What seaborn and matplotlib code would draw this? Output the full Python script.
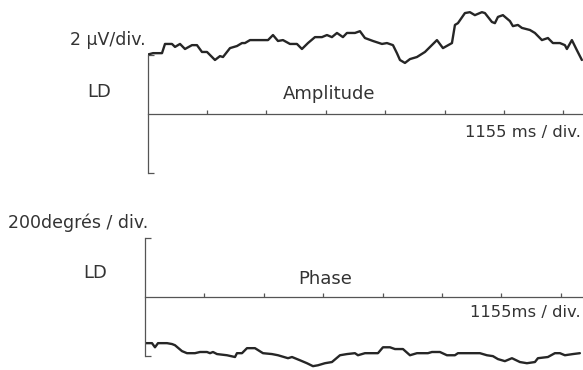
"""
Amplitude and phase traces (LD), 1155 ms per division
"""

import numpy as np
import pandas as pd
import seaborn as sns
import matplotlib
matplotlib.use('Agg')
import matplotlib.pyplot as plt

sns.set_theme(style='white')
plt.rcParams['font.family'] = ['DejaVu Sans']

# amplitude trace, time in ms, amplitude in microvolts (2 uV/div)
amp_time = [0, 107, 282, 340, 476, 535, 632, 729, 865, 962, 1059, 1157, 1312, 1409,
            1468, 1604, 1740, 1837, 1895, 1993, 2343, 2440, 2537, 2634, 2770, 2906,
            3003, 3120, 3256, 3392, 3489, 3586, 3684, 3800, 3878, 4034, 4131, 4228,
            4384, 4559, 4656, 4773, 4850, 4909, 5006, 5103, 5239, 5395, 5628, 5745,
            5920, 5978, 6036, 6172, 6269, 6366, 6502, 6561, 6697, 6755, 6814, 6911,
            7047, 7105, 7202, 7280, 7436, 7533, 7669, 7786, 7883, 8019, 8116, 8155,
            8252, 8349, 8446]
amp_uv = [2.0, 2.05, 2.05, 2.36, 2.36, 2.26, 2.36, 2.19, 2.32, 2.32, 2.09, 2.09, 1.82, 1.95,
          1.92, 2.22, 2.29, 2.39, 2.39, 2.49, 2.49, 2.66, 2.46, 2.49, 2.36, 2.36,
          2.19, 2.39, 2.59, 2.59, 2.66, 2.59, 2.73, 2.59, 2.73, 2.73, 2.79, 2.56,
          2.46, 2.36, 2.39, 2.32, 2.05, 1.82, 1.72, 1.85, 1.92, 2.09, 2.49, 2.22,
          2.39, 3.00, 3.06, 3.40, 3.43, 3.33, 3.43, 3.40, 3.10, 3.06, 3.27, 3.33,
          3.13, 2.96, 3.00, 2.90, 2.83, 2.73, 2.49, 2.56, 2.39, 2.39, 2.32, 2.19,
          2.49, 2.15, 1.82]

# phase trace, time in ms, phase in degrees (200 deg/div)
phase_time = [0, 136, 194, 253, 428, 525, 583, 719, 816, 972, 1069, 1205, 1264, 1322,
              1400, 1594, 1750, 1788, 1886, 1983, 2138, 2294, 2469, 2586, 2780, 2858,
              3013, 3149, 3266, 3363, 3499, 3635, 3791, 3927, 4082, 4141, 4277, 4530,
              4627, 4763, 4860, 5016, 5152, 5288, 5502, 5579, 5735, 5871, 6026, 6085,
              6512, 6648, 6765, 6862, 6998, 7135, 7290, 7426, 7582, 7640, 7834, 7970,
              8068, 8165, 8320, 8456]
phase_deg = [-156, -156, -170, -156, -156, -159, -163, -183, -190, -190, -186, -186, -190, -186,
             -193, -197, -203, -190, -190, -173, -173, -190, -193, -197, -207, -203,
             -214, -224, -234, -231, -224, -220, -197, -193, -190, -197, -190, -190,
             -170, -170, -176, -176, -197, -190, -190, -186, -186, -197, -197, -190,
             -190, -197, -200, -210, -217, -207, -220, -224, -220, -207, -203, -190,
             -190, -197, -193, -190]

ms_per_div = 1155
div_ticks = [ms_per_div * k for k in range(1, 8)]

trace_col = '#262626'
axis_col = '#555555'
text_col = '#333333'

W, H = 583, 370
fig = plt.figure(figsize=(W / 100, H / 100), dpi=100)
fig.patch.set_facecolor('white')

ax_amp = fig.add_axes([147.5 / W, 185 / H, (W - 147.5) / W, 185 / H])
ax_ph = fig.add_axes([145 / W, 0, (W - 145) / W, 185 / H])

sns.lineplot(x=amp_time, y=amp_uv, ax=ax_amp, color=trace_col, linewidth=1.7)
sns.lineplot(x=phase_time, y=phase_deg, ax=ax_ph, color=trace_col, linewidth=1.7)

ax_amp.set_xlim(0, (W - 147.5) / 59.4 * ms_per_div)
ax_amp.set_ylim(-2.39, 3.84)
ax_ph.set_xlim(0, (W - 145) / 59.4 * ms_per_div)
ax_ph.set_ylim(-247, 380)

for ax, span in [(ax_amp, 2), (ax_ph, 200)]:
    ax.set_facecolor('none')
    ax.spines['top'].set_visible(False)
    ax.spines['right'].set_visible(False)
    ax.spines['bottom'].set_position(('data', 0))
    ax.spines['left'].set_bounds(-span, span)
    for s in ['bottom', 'left']:
        ax.spines[s].set_color(axis_col)
        ax.spines[s].set_linewidth(0.9)
    ax.set_xticks(div_ticks)
    ax.set_yticks([-span, span])
    ax.tick_params(axis='x', direction='in', length=3, width=0.9, color=axis_col,
                   bottom=True, labelbottom=False)
    ax.tick_params(axis='y', direction='in', length=4.5, width=0.9, color=axis_col,
                   left=True, labelleft=False)
    ax.set_xlabel('')
    ax.set_ylabel('')


def label(x, y, s, size=12.5):
    fig.text(x / W, 1 - y / H, s, ha='left', va='center', fontsize=size, color=text_col)


label(70, 40, '2 µV/div.', 12.5)
label(87, 92, 'LD', 13)
label(283, 94, 'Amplitude', 13)
label(465, 132, '1155 ms / div.', 11.8)
label(8, 223, '200degrés / div.', 12.5)
label(83, 273, 'LD', 13)
label(298, 279, 'Phase', 13)
label(470, 313, '1155ms / div.', 11.8)

plt.savefig('out.png', dpi=100)
